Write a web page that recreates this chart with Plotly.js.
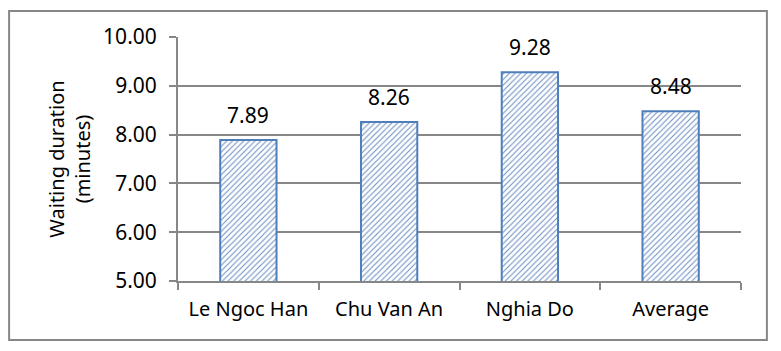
<!DOCTYPE html>
<html>
<head>
<meta charset="utf-8">
<script src="https://cdn.plot.ly/plotly-3.0.1.min.js"></script>
<style>html,body{margin:0;padding:0;background:#fff;}#chart{width:781px;height:351px;}</style>
</head>
<body>
<div id="chart"></div>
<script>
const categories = ["Le Ngoc Han", "Chu Van An", "Nghia Do", "Average"];
const waitingMinutes = [7.89, 8.26, 9.28, 8.48];
const valueLabels = ["7.89", "8.26", "9.28", "8.48"];
const yTickValues = [5, 6, 7, 8, 9, 10];
const yTickLabels = ["5.00", "6.00", "7.00", "8.00", "9.00", "10.00"];

const FONT = "Noto Sans, Open Sans, Liberation Sans, sans-serif";
const GRID = "#878787";
const FS = 21;

const trace = {
  type: "bar",
  x: categories,
  y: waitingMinutes,
  base: 0,
  marker: {
    color: "#ffffff",
    line: {color: "#4f7fbb", width: 2},
    pattern: {shape: "/", fgcolor: "#6a8cc0", bgcolor: "#ffffff", size: 4, solidity: 0.25}
  },
  hoverinfo: "x+y"
};

const annotations = categories.map((c, i) => ({
  x: c, y: waitingMinutes[i], xref: "x", yref: "y",
  text: valueLabels[i], showarrow: false,
  yanchor: "middle", yshift: 25,
  font: {family: FONT, size: FS, color: "#000"}
}));

const layout = {
  width: 781, height: 351,
  margin: {l: 178, r: 40, t: 37, b: 70},
  paper_bgcolor: "#ffffff", plot_bgcolor: "#ffffff",
  showlegend: false,
  bargap: 0.6,
  font: {family: FONT, size: FS, color: "#000"},
  xaxis: {
    type: "category",
    showline: true, linecolor: GRID, linewidth: 2,
    ticks: "outside", tickson: "boundaries", ticklen: 7, tickcolor: GRID, tickwidth: 2,
    ticklabelstandoff: 9,
    showgrid: false, zeroline: false,
    tickfont: {family: FONT, size: 20, color: "#000"}
  },
  yaxis: {
    range: [5, 10],
    tickvals: yTickValues, ticktext: yTickLabels,
    showline: true, linecolor: GRID, linewidth: 2,
    ticks: "outside", ticklen: 7, tickcolor: GRID, tickwidth: 2,
    ticklabelstandoff: 8,
    showgrid: true, gridcolor: GRID, gridwidth: 2,
    zeroline: false,
    tickfont: {family: FONT, size: FS, color: "#000"},
    title: {text: "Waiting duration<br>(minutes)", font: {family: FONT, size: 20, color: "#000"}, standoff: 7}
  },
  annotations: annotations,
  shapes: [{
    type: "rect", xref: "paper", yref: "paper",
    x0: -0.300, x1: 1.046, y0: -0.242, y1: 1.107,
    line: {color: GRID, width: 2}, fillcolor: "rgba(0,0,0,0)", layer: "below"
  }]
};

Plotly.newPlot("chart", [trace], layout, {displayModeBar: false, staticPlot: true});
</script>
</body>
</html>
